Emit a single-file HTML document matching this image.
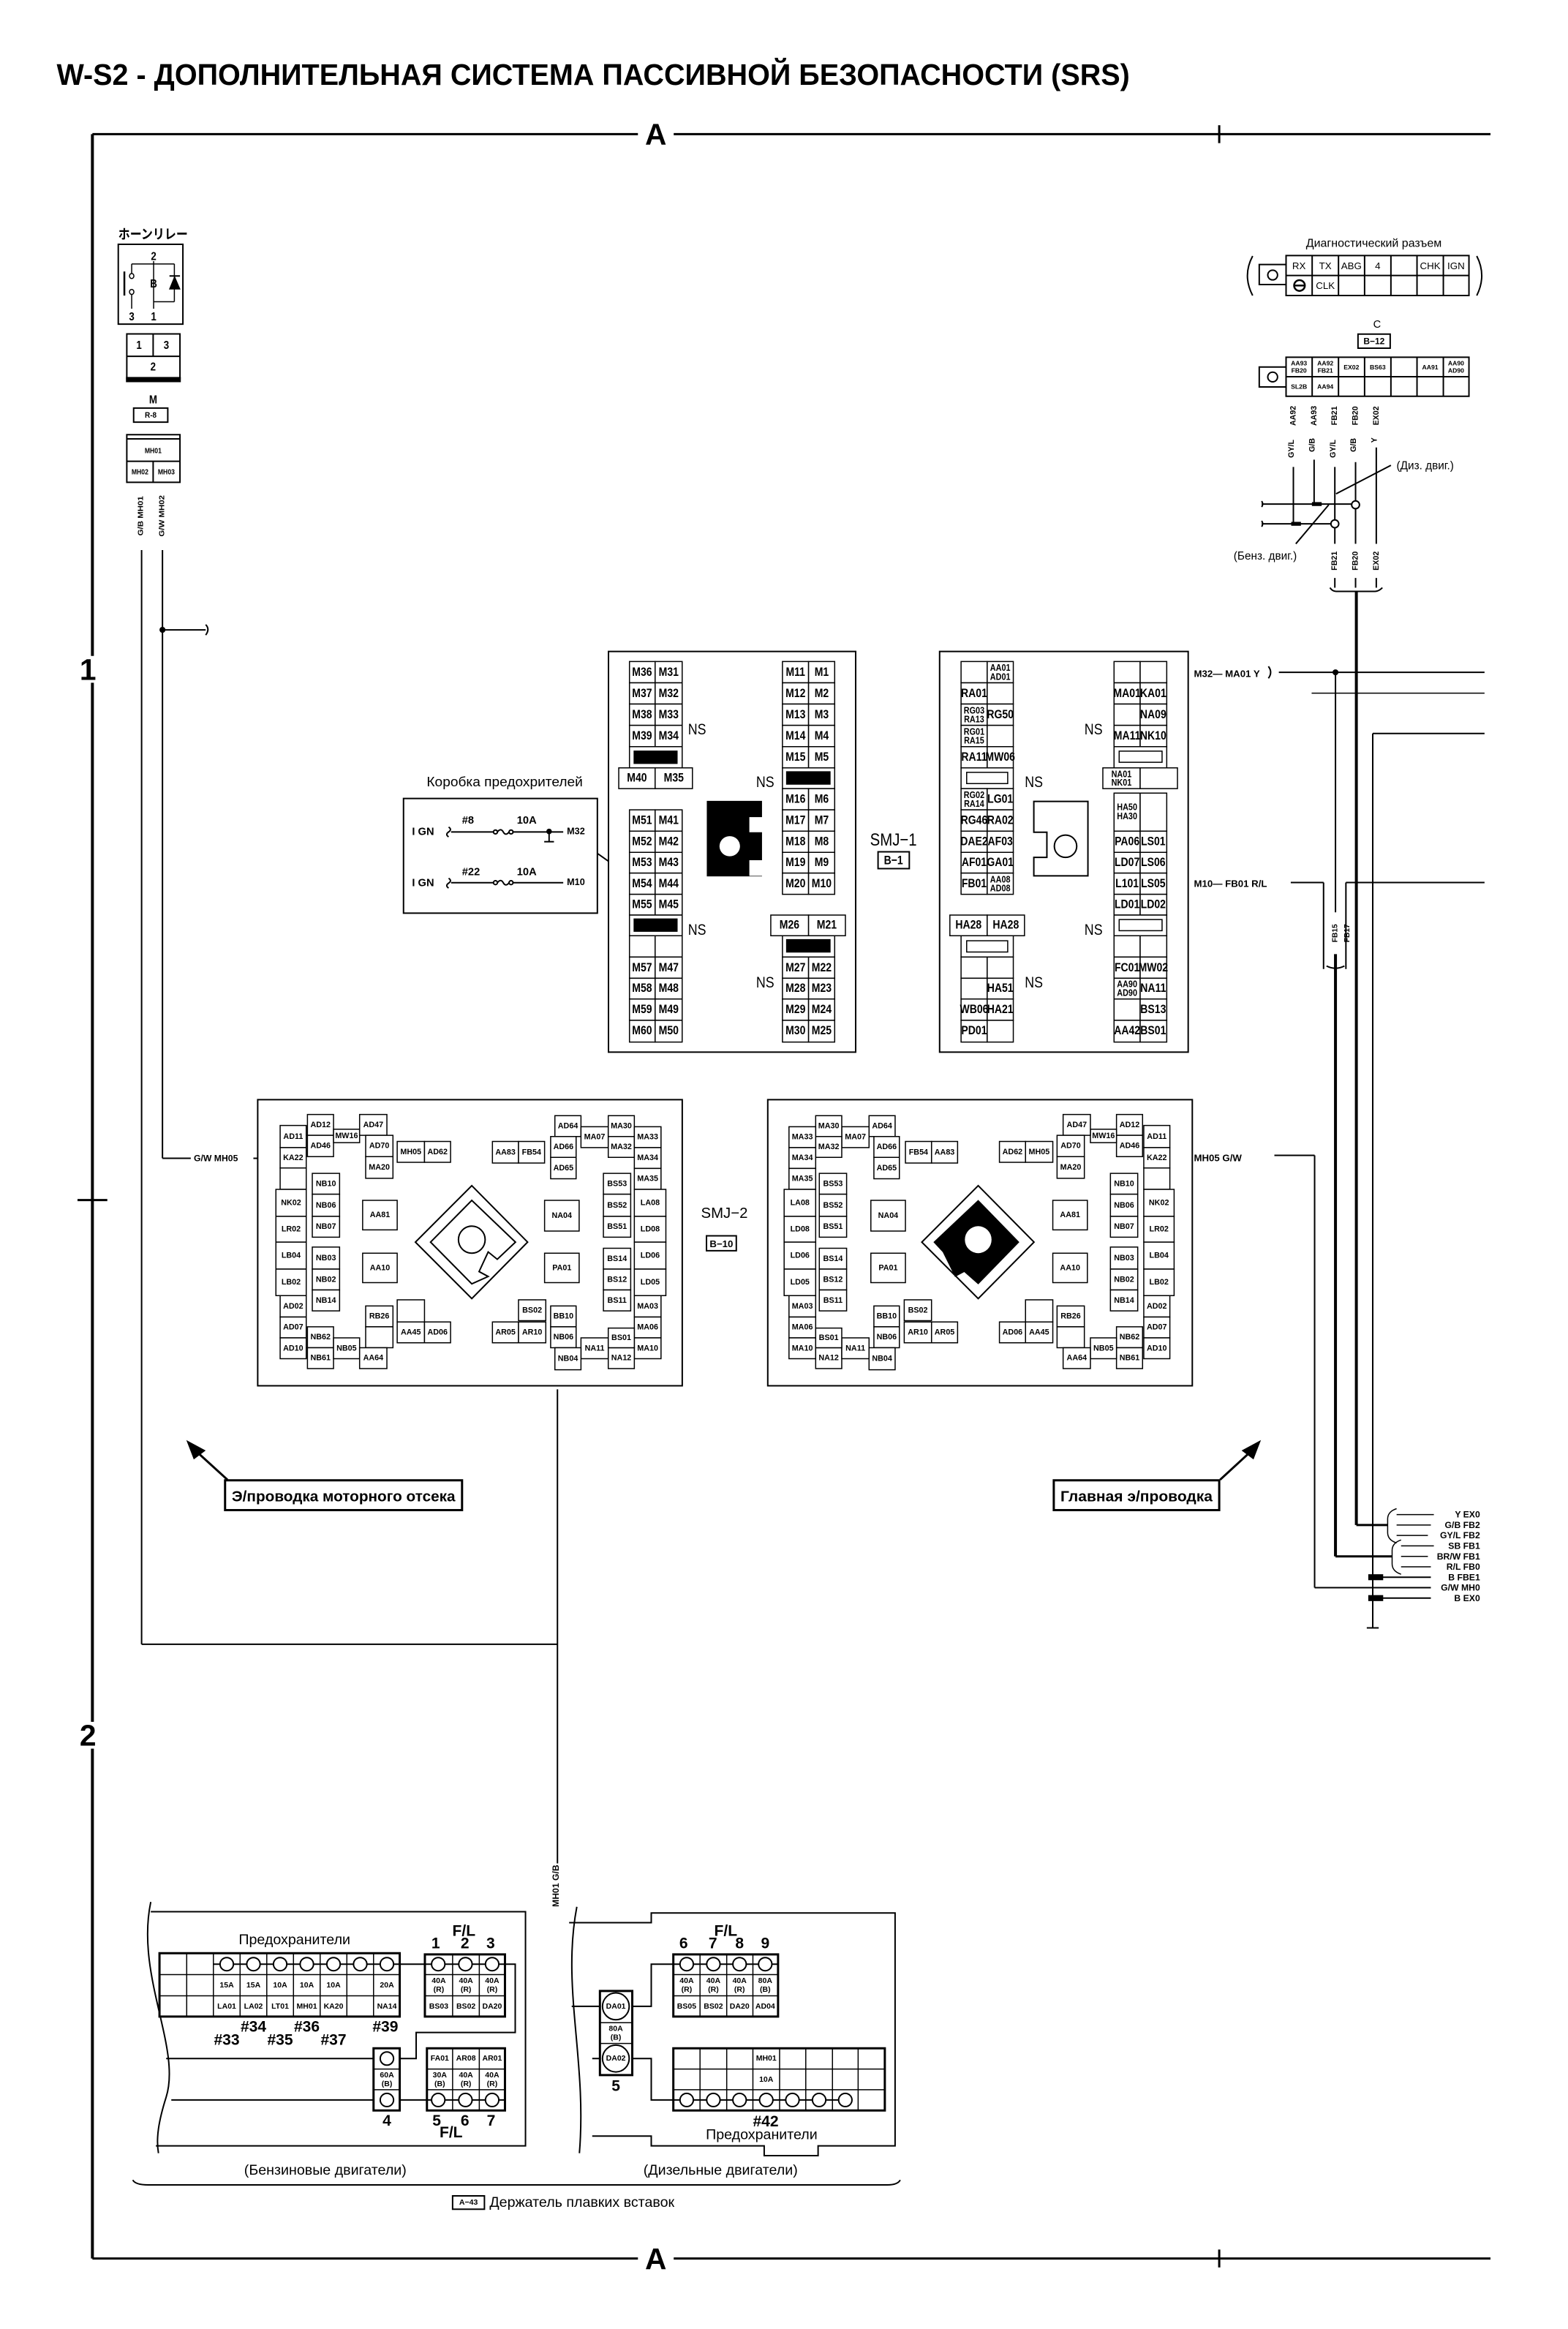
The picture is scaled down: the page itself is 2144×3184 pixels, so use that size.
<!DOCTYPE html>
<html><head><meta charset="utf-8">
<style>
html,body{margin:0;padding:0;background:#fff}
svg{display:block}
svg *{vector-effect:non-scaling-stroke}
text{font-family:"Liberation Sans","Noto Sans CJK JP",sans-serif;fill:#000;stroke:none}
.c{text-anchor:middle;dominant-baseline:central;font-weight:bold}
.n{text-anchor:middle;dominant-baseline:central}
.b{font-weight:bold}
</style></head><body>
<svg width="2144" height="3184" viewBox="0 0 1052 1562.3" xmlns="http://www.w3.org/2000/svg">
<rect x="0" y="0" width="1052" height="1563" fill="#fff"/>

<!-- Title -->
<text x="38" y="57" font-size="20" class="b" textLength="720" lengthAdjust="spacingAndGlyphs">W-S2 - ДОПОЛНИТЕЛЬНАЯ СИСТЕМА ПАССИВНОЙ БЕЗОПАСНОСТИ (SRS)</text>

<!-- Frame -->
<g stroke="#000" fill="none">
<line x1="62" y1="90" x2="428" y2="90" stroke-width="3"/>
<line x1="452" y1="90" x2="1000" y2="90" stroke-width="3"/>
<line x1="818" y1="84" x2="818" y2="96" stroke-width="3"/>
<line x1="62" y1="90" x2="62" y2="1515" stroke-width="4"/>
<line x1="62" y1="1515" x2="428" y2="1515" stroke-width="3"/>
<line x1="452" y1="1515" x2="1000" y2="1515" stroke-width="3"/>
<line x1="818" y1="1509" x2="818" y2="1521" stroke-width="3"/>
<line x1="52" y1="805" x2="72" y2="805" stroke-width="3"/>
</g>
<text x="440" y="97" font-size="20" class="b" text-anchor="middle">A</text>
<text x="440" y="1522" font-size="20" class="b" text-anchor="middle">A</text>
<rect x="52" y="440" width="14" height="18" fill="#fff"/>
<text x="59" y="456" font-size="20" class="b" text-anchor="middle">1</text>
<rect x="52" y="1155" width="14" height="18" fill="#fff"/>
<text x="59" y="1171" font-size="20" class="b" text-anchor="middle">2</text>

<!-- Horn relay (zoom5 coords) -->
<g transform="translate(58.9,142.3) scale(0.1636,0.1878)" stroke="#000" fill="none">
<text x="125" y="95" font-size="48" class="b">ホーンリレー</text>
<rect x="125" y="115" width="265" height="285" stroke-width="2"/>
<text x="270" y="160" font-size="40" class="c">2</text>
<text x="180" y="375" font-size="40" class="c">3</text>
<text x="270" y="375" font-size="40" class="c">1</text>
<line x1="150" y1="212" x2="150" y2="298" stroke-width="2.5"/>
<circle cx="180" cy="228" r="9" stroke-width="1.5"/>
<circle cx="180" cy="285" r="9" stroke-width="1.5"/>
<line x1="180" y1="294" x2="180" y2="345" stroke-width="1.5"/>
<line x1="180" y1="185" x2="180" y2="219" stroke-width="1.5"/>
<line x1="180" y1="185" x2="355" y2="185" stroke-width="1.5"/>
<line x1="270" y1="175" x2="270" y2="345" stroke-width="1.5"/>
<line x1="270" y1="320" x2="355" y2="320" stroke-width="1.5"/>
<line x1="355" y1="185" x2="355" y2="320" stroke-width="1.5"/>
<text x="270" y="258" font-size="40" class="c">B</text>
<polygon points="335,275 378,275 356,230" fill="#000"/>
<line x1="335" y1="228" x2="378" y2="228" stroke-width="2"/>
<rect x="160" y="435" width="218" height="160" fill="#fff" stroke-width="2"/>
<line x1="268" y1="435" x2="268" y2="515" stroke-width="2"/>
<line x1="160" y1="515" x2="378" y2="515" stroke-width="2"/>
<rect x="158" y="590" width="222" height="16" fill="#000"/>
<text x="210" y="478" font-size="40" class="c">1</text>
<text x="322" y="478" font-size="40" class="c">3</text>
<text x="268" y="555" font-size="40" class="c">2</text>
<text x="268" y="672" font-size="40" class="c">M</text>
<rect x="188" y="700" width="140" height="50" stroke-width="2"/>
<text x="258" y="726" font-size="30" class="c">R-8</text>
<rect x="160" y="795" width="218" height="170" fill="#fff" stroke-width="2"/>
<line x1="160" y1="810" x2="378" y2="810" stroke-width="2"/>
<line x1="160" y1="890" x2="378" y2="890" stroke-width="2"/>
<line x1="268" y1="890" x2="268" y2="965" stroke-width="2"/>
<text x="268" y="852" font-size="26" class="c">MH01</text>
<text x="214" y="928" font-size="26" class="c">MH02</text>
<text x="322" y="928" font-size="26" class="c">MH03</text>
<text transform="translate(218,1085) rotate(-90)" font-size="30" class="c">G/B MH01</text>
<text transform="translate(305,1085) rotate(-90)" font-size="30" class="c">G/W MH02</text>
</g>

<!-- Left wires -->
<g stroke="#000" fill="none" stroke-width="2">
<line x1="95" y1="369" x2="95" y2="1103"/>
<line x1="109" y1="369" x2="109" y2="777"/>
<line x1="109" y1="422.5" x2="138" y2="422.5"/>
<path d="M138,419 q3,3 0,7" />
<line x1="109" y1="777" x2="128" y2="777"/>
<line x1="170" y1="777" x2="174" y2="777"/>
<line x1="95" y1="1103" x2="374" y2="1103"/>
<line x1="374" y1="932" x2="374" y2="1250"/>
</g>
<circle cx="109" cy="422.5" r="2" fill="#000"/>
<text x="130" y="779" font-size="6" class="b">G/W MH05</text>

<!-- Fuse box (zoom7 coords) -->
<g transform="translate(265,510.3) scale(0.1636)" stroke="#000" fill="none">
<text x="450" y="105" font-size="56" text-anchor="middle" textLength="640" lengthAdjust="spacingAndGlyphs">Коробка предохрителей</text>
<rect x="35" y="155" width="795" height="470" stroke-width="2"/>
<text x="70" y="305" font-size="44" class="b">I GN</text>
<text x="70" y="515" font-size="44" class="b">I GN</text>
<path d="M220,272 q15,10 0,20 q-15,10 0,20" stroke-width="2"/>
<path d="M220,482 q15,10 0,20 q-15,10 0,20" stroke-width="2"/>
<line x1="230" y1="292" x2="405" y2="292" stroke-width="2"/>
<circle cx="412" cy="292" r="8" stroke-width="2"/>
<path d="M420,292 q14,-18 24,0 q10,18 24,0" stroke-width="2"/>
<circle cx="476" cy="292" r="8" stroke-width="2"/>
<line x1="484" y1="292" x2="690" y2="292" stroke-width="2"/>
<circle cx="632" cy="290" r="10" fill="#000"/>
<line x1="632" y1="290" x2="632" y2="330" stroke-width="2"/>
<line x1="612" y1="332" x2="652" y2="332" stroke-width="2"/>
<text x="705" y="302" font-size="38" class="b">M32</text>
<text x="275" y="258" font-size="44" class="b">#8</text>
<text x="500" y="258" font-size="44" class="b">10A</text>
<line x1="230" y1="500" x2="405" y2="500" stroke-width="2"/>
<circle cx="412" cy="500" r="8" stroke-width="2"/>
<path d="M420,500 q14,-18 24,0 q10,18 24,0" stroke-width="2"/>
<circle cx="476" cy="500" r="8" stroke-width="2"/>
<line x1="484" y1="500" x2="690" y2="500" stroke-width="2"/>
<text x="705" y="510" font-size="38" class="b">M10</text>
<text x="275" y="470" font-size="44" class="b">#22</text>
<text x="500" y="470" font-size="44" class="b">10A</text>
<line x1="830" y1="380" x2="875" y2="412" stroke-width="2"/>
</g>

<!-- SMJ-1 (zoom1 coords) -->
<g transform="translate(392.6,147.2) scale(0.3129,0.3754)" stroke="#000" stroke-width="1.5">
<rect x="50" y="772" width="530" height="716" fill="#fff" stroke-width="2"/>
<rect x="760" y="772" width="533" height="716" fill="#fff" stroke-width="2"/>
<g fill="#fff">
<rect x="95" y="790" width="55" height="38"/><rect x="150" y="790" width="58" height="38"/>
<rect x="95" y="828" width="55" height="38"/><rect x="150" y="828" width="58" height="38"/>
<rect x="95" y="866" width="55" height="38"/><rect x="150" y="866" width="58" height="38"/>
<rect x="95" y="904" width="55" height="38"/><rect x="150" y="904" width="58" height="38"/>
<rect x="95" y="942" width="113" height="38"/>
<rect x="72" y="980" width="78" height="37"/><rect x="150" y="980" width="80" height="37"/>
<rect x="95" y="1055" width="55" height="38"/><rect x="150" y="1055" width="58" height="38"/>
<rect x="95" y="1093" width="55" height="38"/><rect x="150" y="1093" width="58" height="38"/>
<rect x="95" y="1131" width="55" height="37"/><rect x="150" y="1131" width="58" height="37"/>
<rect x="95" y="1168" width="55" height="38"/><rect x="150" y="1168" width="58" height="38"/>
<rect x="95" y="1206" width="55" height="37"/><rect x="150" y="1206" width="58" height="37"/>
<rect x="95" y="1243" width="113" height="37"/>
<rect x="95" y="1280" width="55" height="38"/><rect x="150" y="1280" width="58" height="38"/>
<rect x="95" y="1318" width="55" height="38"/><rect x="150" y="1318" width="58" height="38"/>
<rect x="95" y="1356" width="55" height="37"/><rect x="150" y="1356" width="58" height="37"/>
<rect x="95" y="1393" width="55" height="38"/><rect x="150" y="1393" width="58" height="38"/>
<rect x="95" y="1431" width="55" height="39"/><rect x="150" y="1431" width="58" height="39"/>
<rect x="423" y="790" width="56" height="38"/><rect x="479" y="790" width="56" height="38"/>
<rect x="423" y="828" width="56" height="38"/><rect x="479" y="828" width="56" height="38"/>
<rect x="423" y="866" width="56" height="38"/><rect x="479" y="866" width="56" height="38"/>
<rect x="423" y="904" width="56" height="38"/><rect x="479" y="904" width="56" height="38"/>
<rect x="423" y="942" width="56" height="38"/><rect x="479" y="942" width="56" height="38"/>
<rect x="423" y="980" width="112" height="37"/>
<rect x="423" y="1017" width="56" height="38"/><rect x="479" y="1017" width="56" height="38"/>
<rect x="423" y="1055" width="56" height="38"/><rect x="479" y="1055" width="56" height="38"/>
<rect x="423" y="1093" width="56" height="38"/><rect x="479" y="1093" width="56" height="38"/>
<rect x="423" y="1131" width="56" height="37"/><rect x="479" y="1131" width="56" height="37"/>
<rect x="423" y="1168" width="56" height="38"/><rect x="479" y="1168" width="56" height="38"/>
<rect x="398" y="1243" width="81" height="37"/><rect x="479" y="1243" width="79" height="37"/>
<rect x="423" y="1280" width="112" height="38"/>
<rect x="423" y="1318" width="56" height="38"/><rect x="479" y="1318" width="56" height="38"/>
<rect x="423" y="1356" width="56" height="37"/><rect x="479" y="1356" width="56" height="37"/>
<rect x="423" y="1393" width="56" height="38"/><rect x="479" y="1393" width="56" height="38"/>
<rect x="423" y="1431" width="56" height="39"/><rect x="479" y="1431" width="56" height="39"/>
</g>
<rect x="105" y="950" width="92" height="22" fill="#000"/>
<rect x="105" y="1250" width="92" height="22" fill="#000"/>
<rect x="432" y="987" width="93" height="22" fill="#000"/>
<rect x="432" y="1287" width="93" height="22" fill="#000"/>
<rect x="262" y="1040" width="116" height="133" fill="#000"/>
<rect x="352" y="1068" width="28" height="27" fill="#fff" stroke="none"/>
<rect x="352" y="1145" width="28" height="28" fill="#fff" stroke="none"/>
<ellipse cx="310" cy="1120" rx="22" ry="18" fill="#fff" stroke="none"/>
<g fill="#fff">
<rect x="806" y="790" width="56" height="38"/><rect x="862" y="790" width="56" height="38"/>
<rect x="806" y="828" width="56" height="38"/><rect x="862" y="828" width="56" height="38"/>
<rect x="806" y="866" width="56" height="38"/><rect x="862" y="866" width="56" height="38"/>
<rect x="806" y="904" width="56" height="38"/><rect x="862" y="904" width="56" height="38"/>
<rect x="806" y="942" width="56" height="38"/><rect x="862" y="942" width="56" height="38"/>
<rect x="806" y="980" width="112" height="37"/>
<rect x="806" y="1017" width="56" height="38"/><rect x="862" y="1017" width="56" height="38"/>
<rect x="806" y="1055" width="56" height="38"/><rect x="862" y="1055" width="56" height="38"/>
<rect x="806" y="1093" width="56" height="38"/><rect x="862" y="1093" width="56" height="38"/>
<rect x="806" y="1131" width="56" height="37"/><rect x="862" y="1131" width="56" height="37"/>
<rect x="806" y="1168" width="56" height="38"/><rect x="862" y="1168" width="56" height="38"/>
<rect x="782" y="1243" width="80" height="37"/><rect x="862" y="1243" width="80" height="37"/>
<rect x="806" y="1280" width="112" height="38"/>
<rect x="806" y="1318" width="56" height="38"/><rect x="862" y="1318" width="56" height="38"/>
<rect x="806" y="1356" width="56" height="37"/><rect x="862" y="1356" width="56" height="37"/>
<rect x="806" y="1393" width="56" height="38"/><rect x="862" y="1393" width="56" height="38"/>
<rect x="806" y="1431" width="56" height="39"/><rect x="862" y="1431" width="56" height="39"/>
<rect x="1134" y="790" width="56" height="38"/><rect x="1190" y="790" width="57" height="38"/>
<rect x="1134" y="828" width="56" height="38"/><rect x="1190" y="828" width="57" height="38"/>
<rect x="1134" y="866" width="56" height="38"/><rect x="1190" y="866" width="57" height="38"/>
<rect x="1134" y="904" width="56" height="38"/><rect x="1190" y="904" width="57" height="38"/>
<rect x="1134" y="942" width="113" height="38"/>
<rect x="1110" y="980" width="80" height="37"/><rect x="1190" y="980" width="80" height="37"/>
<rect x="1134" y="1025" width="56" height="68"/><rect x="1190" y="1025" width="57" height="68"/>
<rect x="1134" y="1093" width="56" height="38"/><rect x="1190" y="1093" width="57" height="38"/>
<rect x="1134" y="1131" width="56" height="37"/><rect x="1190" y="1131" width="57" height="37"/>
<rect x="1134" y="1168" width="56" height="38"/><rect x="1190" y="1168" width="57" height="38"/>
<rect x="1134" y="1206" width="56" height="37"/><rect x="1190" y="1206" width="57" height="37"/>
<rect x="1134" y="1243" width="113" height="37"/>
<rect x="1134" y="1280" width="56" height="38"/><rect x="1190" y="1280" width="57" height="38"/>
<rect x="1134" y="1318" width="56" height="38"/><rect x="1190" y="1318" width="57" height="38"/>
<rect x="1134" y="1356" width="56" height="37"/><rect x="1190" y="1356" width="57" height="37"/>
<rect x="1134" y="1393" width="56" height="38"/><rect x="1190" y="1393" width="57" height="38"/>
<rect x="1134" y="1431" width="56" height="39"/><rect x="1190" y="1431" width="57" height="39"/>
<rect x="818" y="988" width="88" height="20"/>
<rect x="818" y="1289" width="88" height="20"/>
<rect x="1145" y="950" width="92" height="20"/>
<rect x="1145" y="1251" width="92" height="20"/>
<path d="M962,1040 L1078,1040 L1078,1173 L962,1173 L962,1140 L990,1140 L990,1095 L962,1095 Z" stroke-width="2"/>
<ellipse cx="1030" cy="1120" rx="24" ry="20" stroke-width="2"/>
<rect x="628" y="1130" width="67" height="30" stroke-width="2"/>
</g>
<g font-size="22" class="c" stroke="none">
<text x="122" y="809" class="c">M36</text><text x="179" y="809" class="c">M31</text>
<text x="122" y="847" class="c">M37</text><text x="179" y="847" class="c">M32</text>
<text x="122" y="885" class="c">M38</text><text x="179" y="885" class="c">M33</text>
<text x="122" y="923" class="c">M39</text><text x="179" y="923" class="c">M34</text>
<text x="111" y="998" class="c">M40</text><text x="190" y="998" class="c">M35</text>
<text x="122" y="1074" class="c">M51</text><text x="179" y="1074" class="c">M41</text>
<text x="122" y="1112" class="c">M52</text><text x="179" y="1112" class="c">M42</text>
<text x="122" y="1149" class="c">M53</text><text x="179" y="1149" class="c">M43</text>
<text x="122" y="1187" class="c">M54</text><text x="179" y="1187" class="c">M44</text>
<text x="122" y="1224" class="c">M55</text><text x="179" y="1224" class="c">M45</text>
<text x="122" y="1337" class="c">M57</text><text x="179" y="1337" class="c">M47</text>
<text x="122" y="1374" class="c">M58</text><text x="179" y="1374" class="c">M48</text>
<text x="122" y="1412" class="c">M59</text><text x="179" y="1412" class="c">M49</text>
<text x="122" y="1450" class="c">M60</text><text x="179" y="1450" class="c">M50</text>
<text x="451" y="809" class="c">M11</text><text x="507" y="809" class="c">M1</text>
<text x="451" y="847" class="c">M12</text><text x="507" y="847" class="c">M2</text>
<text x="451" y="885" class="c">M13</text><text x="507" y="885" class="c">M3</text>
<text x="451" y="923" class="c">M14</text><text x="507" y="923" class="c">M4</text>
<text x="451" y="961" class="c">M15</text><text x="507" y="961" class="c">M5</text>
<text x="451" y="1036" class="c">M16</text><text x="507" y="1036" class="c">M6</text>
<text x="451" y="1074" class="c">M17</text><text x="507" y="1074" class="c">M7</text>
<text x="451" y="1112" class="c">M18</text><text x="507" y="1112" class="c">M8</text>
<text x="451" y="1149" class="c">M19</text><text x="507" y="1149" class="c">M9</text>
<text x="451" y="1187" class="c">M20</text><text x="507" y="1187" class="c">M10</text>
<text x="438" y="1261" class="c">M26</text><text x="518" y="1261" class="c">M21</text>
<text x="451" y="1337" class="c">M27</text><text x="507" y="1337" class="c">M22</text>
<text x="451" y="1374" class="c">M28</text><text x="507" y="1374" class="c">M23</text>
<text x="451" y="1412" class="c">M29</text><text x="507" y="1412" class="c">M24</text>
<text x="451" y="1450" class="c">M30</text><text x="507" y="1450" class="c">M25</text>
<text x="834" y="847" class="c">RA01</text>
<text x="834" y="961" class="c">RA11</text><text x="890" y="961" class="c">MW06</text>
<text x="890" y="885" class="c">RG50</text>
<text x="890" y="1036" class="c">LG01</text>
<text x="834" y="1074" class="c">RG46</text><text x="890" y="1074" class="c">RA02</text>
<text x="834" y="1112" class="c">DAE2</text><text x="890" y="1112" class="c">AF03</text>
<text x="834" y="1149" class="c">AF01</text><text x="890" y="1149" class="c">GA01</text>
<text x="834" y="1187" class="c">FB01</text>
<text x="822" y="1261" class="c">HA28</text><text x="902" y="1261" class="c">HA28</text>
<text x="890" y="1374" class="c">HA51</text>
<text x="834" y="1412" class="c">WB06</text><text x="890" y="1412" class="c">HA21</text>
<text x="834" y="1450" class="c">PD01</text>
<text x="1162" y="847" class="c">MA01</text><text x="1218" y="847" class="c">KA01</text>
<text x="1218" y="885" class="c">NA09</text>
<text x="1162" y="923" class="c">MA11</text><text x="1218" y="923" class="c">NK10</text>
<text x="1162" y="1112" class="c">PA06</text><text x="1218" y="1112" class="c">LS01</text>
<text x="1162" y="1149" class="c">LD07</text><text x="1218" y="1149" class="c">LS06</text>
<text x="1162" y="1187" class="c">L101</text><text x="1218" y="1187" class="c">LS05</text>
<text x="1162" y="1224" class="c">LD01</text><text x="1218" y="1224" class="c">LD02</text>
<text x="1162" y="1337" class="c">FC01</text><text x="1218" y="1337" class="c">MW02</text>
<text x="1218" y="1374" class="c">NA11</text>
<text x="1218" y="1412" class="c">BS13</text>
<text x="1162" y="1450" class="c">AA42</text><text x="1218" y="1450" class="c">BS01</text>
</g>
<g font-size="17" stroke="none">
<text x="890" y="801" class="c">AA01</text><text x="890" y="817" class="c">AD01</text>
<text x="834" y="877" class="c">RG03</text><text x="834" y="893" class="c">RA13</text>
<text x="834" y="915" class="c">RG01</text><text x="834" y="931" class="c">RA15</text>
<text x="834" y="1028" class="c">RG02</text><text x="834" y="1044" class="c">RA14</text>
<text x="890" y="1179" class="c">AA08</text><text x="890" y="1195" class="c">AD08</text>
<text x="1150" y="991" class="c">NA01</text><text x="1150" y="1006" class="c">NK01</text>
<text x="1162" y="1050" class="c">HA50</text><text x="1162" y="1066" class="c">HA30</text>
<text x="1162" y="1366" class="c">AA90</text><text x="1162" y="1382" class="c">AD90</text>
</g>
<g font-size="28" stroke="none">
<text x="240" y="912" class="n">NS</text><text x="386" y="1006" class="n">NS</text>
<text x="240" y="1270" class="n">NS</text><text x="386" y="1364" class="n">NS</text>
<text x="962" y="1006" class="n">NS</text><text x="962" y="1364" class="n">NS</text>
<text x="1090" y="912" class="n">NS</text><text x="1090" y="1270" class="n">NS</text>
<text x="661" y="1108" class="n" font-size="32">SMJ−1</text>
<text x="661" y="1146" class="c" font-size="22">B−1</text>
</g>
</g>

<!-- Diagnostic connector area (zoom4 coords) -->
<g transform="translate(824.4,147.2) scale(0.1636)" stroke="#000" fill="none">
<text x="595" y="112" font-size="48" text-anchor="middle">Диагностический разъем</text>
<path d="M98,150 Q55,230 98,312" stroke-width="2"/>
<path d="M1017,150 Q1058,230 1017,312" stroke-width="2"/>
<rect x="125" y="185" width="110" height="82" stroke-width="2"/>
<circle cx="180" cy="228" r="20" stroke-width="2"/>
<rect x="235" y="148" width="750" height="164" stroke-width="2"/>
<line x1="235" y1="230" x2="985" y2="230" stroke-width="2"/>
<line x1="342" y1="148" x2="342" y2="312" stroke-width="2"/>
<line x1="450" y1="148" x2="450" y2="312" stroke-width="2"/>
<line x1="557" y1="148" x2="557" y2="312" stroke-width="2"/>
<line x1="665" y1="148" x2="665" y2="312" stroke-width="2"/>
<line x1="772" y1="148" x2="772" y2="312" stroke-width="2"/>
<line x1="880" y1="148" x2="880" y2="312" stroke-width="2"/>
<circle cx="290" cy="271" r="22" stroke-width="2.5"/>
<line x1="268" y1="271" x2="312" y2="271" stroke-width="2.5"/>
<g font-size="40" stroke="none">
<text x="288" y="190" class="n">RX</text><text x="396" y="190" class="n">TX</text>
<text x="503" y="190" class="n">ABG</text><text x="611" y="190" class="n">4</text>
<text x="826" y="190" class="n">CHK</text><text x="932" y="190" class="n">IGN</text>
<text x="396" y="271" class="n">CLK</text>
<text x="608" y="432" class="n" font-size="44">C</text>
</g>
<rect x="530" y="470" width="132" height="58" stroke-width="2"/>
<text x="596" y="499" font-size="36" class="c">B−12</text>
<rect x="125" y="605" width="110" height="82" stroke-width="2"/>
<circle cx="180" cy="646" r="20" stroke-width="2"/>
<rect x="235" y="565" width="750" height="160" stroke-width="2"/>
<line x1="235" y1="645" x2="985" y2="645" stroke-width="2"/>
<line x1="342" y1="565" x2="342" y2="725" stroke-width="2"/>
<line x1="450" y1="565" x2="450" y2="725" stroke-width="2"/>
<line x1="557" y1="565" x2="557" y2="725" stroke-width="2"/>
<line x1="665" y1="565" x2="665" y2="725" stroke-width="2"/>
<line x1="772" y1="565" x2="772" y2="725" stroke-width="2"/>
<line x1="880" y1="565" x2="880" y2="725" stroke-width="2"/>
<g font-size="26" stroke="none">
<text x="288" y="590" class="c">AA93</text><text x="288" y="620" class="c">FB20</text>
<text x="396" y="590" class="c">AA92</text><text x="396" y="620" class="c">FB21</text>
<text x="503" y="606" class="c">EX02</text><text x="611" y="606" class="c">BS63</text>
<text x="826" y="606" class="c">AA91</text>
<text x="932" y="590" class="c">AA90</text><text x="932" y="620" class="c">AD90</text>
<text x="288" y="686" class="c">SL2B</text><text x="396" y="686" class="c">AA94</text>
</g>
<g font-size="32" stroke="none">
<text transform="translate(265,805) rotate(-90)" class="c">AA92</text>
<text transform="translate(350,805) rotate(-90)" class="c">AA93</text>
<text transform="translate(435,805) rotate(-90)" class="c">FB21</text>
<text transform="translate(520,805) rotate(-90)" class="c">FB20</text>
<text transform="translate(605,805) rotate(-90)" class="c">EX02</text>
<text transform="translate(258,940) rotate(-90)" class="c">GY/L</text>
<text transform="translate(343,925) rotate(-90)" class="c">G/B</text>
<text transform="translate(428,940) rotate(-90)" class="c">GY/L</text>
<text transform="translate(513,925) rotate(-90)" class="c">G/B</text>
<text transform="translate(598,905) rotate(-90)" class="c">Y</text>
<text transform="translate(435,1400) rotate(-90)" class="c">FB21</text>
<text transform="translate(520,1400) rotate(-90)" class="c">FB20</text>
<text transform="translate(605,1400) rotate(-90)" class="c">EX02</text>
</g>
<g stroke-width="2">
<line x1="265" y1="1015" x2="265" y2="1250"/>
<line x1="350" y1="985" x2="350" y2="1167"/>
<line x1="435" y1="1015" x2="435" y2="1232"/>
<line x1="435" y1="1264" x2="435" y2="1330"/>
<line x1="520" y1="995" x2="520" y2="1154"/>
<line x1="520" y1="1186" x2="520" y2="1330"/>
<line x1="605" y1="935" x2="605" y2="1330"/>
<line x1="135" y1="1167" x2="504" y2="1167"/>
<line x1="135" y1="1248" x2="419" y2="1248"/>
<circle cx="520" cy="1170" r="16"/>
<circle cx="435" cy="1248" r="16"/>
<line x1="665" y1="1008" x2="440" y2="1125"/>
<line x1="275" y1="1330" x2="410" y2="1170"/>
<line x1="435" y1="1470" x2="435" y2="1510"/>
<line x1="520" y1="1470" x2="520" y2="1510"/>
<line x1="605" y1="1470" x2="605" y2="1510"/>
<path d="M415,1510 Q425,1525 440,1525 L600,1525 Q615,1525 630,1510"/>
</g>
<rect x="256" y="1240" width="40" height="16" fill="#000" stroke="none"/>
<rect x="341" y="1159" width="40" height="16" fill="#000" stroke="none"/>
<path d="M135,1155 q8,12 0,24" stroke-width="2"/>
<path d="M135,1236 q8,12 0,24" stroke-width="2"/>
<text x="688" y="1025" font-size="46">(Диз. двиг.)</text>
<text x="20" y="1395" font-size="46">(Бенз. двиг.)</text>
</g>

<!-- Right wires -->
<g stroke="#000" fill="none" stroke-width="2">
<line x1="910" y1="397" x2="910" y2="1023" stroke-width="4"/>
<line x1="910" y1="1023" x2="931" y2="1023" stroke-width="3"/>
<line x1="896" y1="451" x2="896" y2="612"/>
<line x1="896" y1="640" x2="896" y2="1044" stroke-width="4"/>
<line x1="896" y1="1044" x2="934" y2="1044" stroke-width="3"/>
<line x1="921" y1="492" x2="921" y2="1092"/>
<line x1="917" y1="1092" x2="925" y2="1092"/>
<line x1="921" y1="492" x2="996" y2="492"/>
<line x1="858" y1="451" x2="996" y2="451"/>
<line x1="880" y1="465" x2="996" y2="465" stroke-width="1.5"/>
<path d="M851,447 q3,4 0,8"/>
<line x1="866" y1="592" x2="888" y2="592"/>
<line x1="888" y1="592" x2="888" y2="650"/>
<line x1="903" y1="592" x2="996" y2="592"/>
<line x1="903" y1="592" x2="903" y2="650"/>
<path d="M890,648 q6,3 12,0"/>
<line x1="855" y1="775" x2="882" y2="775"/>
<line x1="882" y1="775" x2="882" y2="1065"/>
<line x1="882" y1="1065" x2="960" y2="1065"/>
<line x1="921" y1="1058" x2="960" y2="1058"/>
<line x1="921" y1="1072" x2="960" y2="1072"/>
<path d="M937,1012 Q931,1014 931,1019 L931,1028 Q931,1033 937,1035" stroke-width="1.5"/>
<path d="M940,1033 Q934,1035 934,1040 L934,1049 Q934,1054 940,1056" stroke-width="1.5"/>
<line x1="937" y1="1016" x2="962" y2="1016" stroke-width="1.5"/>
<line x1="937" y1="1023" x2="960" y2="1023" stroke-width="1.5"/>
<line x1="937" y1="1030" x2="958" y2="1030" stroke-width="1.5"/>
<line x1="940" y1="1037" x2="962" y2="1037" stroke-width="1.5"/>
<line x1="940" y1="1044" x2="958" y2="1044" stroke-width="1.5"/>
<line x1="940" y1="1051" x2="960" y2="1051" stroke-width="1.5"/>
</g>
<circle cx="896" cy="451" r="2" fill="#000"/>
<rect x="918" y="1056" width="10" height="4" fill="#000"/>
<rect x="918" y="1070" width="10" height="4" fill="#000"/>
<g font-size="6" class="b" text-anchor="end">
<text x="993" y="1018">Y   EX0</text>
<text x="993" y="1025">G/B  FB2</text>
<text x="993" y="1032">GY/L  FB2</text>
<text x="993" y="1039">SB  FB1</text>
<text x="993" y="1046">BR/W  FB1</text>
<text x="993" y="1053">R/L  FB0</text>
<text x="993" y="1060">B  FBE1</text>
<text x="993" y="1067">G/W  MH0</text>
<text x="993" y="1074">B  EX0</text>
</g>
<g font-size="6.5" class="b">
<text x="801" y="454">M32— MA01  Y</text>
<text x="801" y="595">M10— FB01  R/L</text>
<text x="801" y="779">MH05  G/W</text>
</g>
<text transform="translate(896,626) rotate(-90)" font-size="5" class="c">FB15</text>
<text transform="translate(904,626) rotate(-90)" font-size="5" class="c">FB17</text>

<!-- SMJ-2 (zoom3 coords) -->
<g transform="translate(166.8,731.1) scale(0.4069,0.1647)" stroke="#000">
<rect x="15" y="40" width="700" height="1165" fill="#fff" stroke-width="2"/>
<rect x="856" y="40" width="700" height="1165" fill="#fff" stroke-width="2"/>
<g id="s2cells" fill="#fff" stroke-width="1.5">
<rect x="52" y="145" width="43" height="90"/><rect x="52" y="235" width="43" height="83"/>
<rect x="52" y="318" width="43" height="87"/><rect x="45" y="405" width="50" height="110"/>
<rect x="45" y="515" width="50" height="105"/><rect x="45" y="620" width="50" height="110"/>
<rect x="45" y="730" width="50" height="108"/><rect x="52" y="838" width="43" height="87"/>
<rect x="52" y="925" width="43" height="85"/><rect x="52" y="1010" width="43" height="85"/>
<rect x="97" y="100" width="43" height="85"/><rect x="97" y="185" width="43" height="87"/>
<rect x="140" y="160" width="43" height="55"/><rect x="183" y="100" width="45" height="85"/>
<rect x="193" y="185" width="45" height="87"/><rect x="193" y="272" width="45" height="88"/>
<rect x="245" y="210" width="45" height="85"/><rect x="290" y="210" width="43" height="85"/>
<rect x="105" y="340" width="45" height="85"/><rect x="105" y="425" width="45" height="90"/>
<rect x="105" y="515" width="45" height="85"/><rect x="105" y="640" width="45" height="90"/>
<rect x="105" y="730" width="45" height="85"/><rect x="105" y="815" width="45" height="85"/>
<rect x="188" y="450" width="57" height="120"/><rect x="188" y="665" width="57" height="120"/>
<rect x="193" y="880" width="45" height="85"/><rect x="193" y="965" width="45" height="85"/>
<rect x="245" y="855" width="45" height="90"/><rect x="245" y="945" width="45" height="85"/>
<rect x="290" y="945" width="43" height="85"/><rect x="97" y="965" width="43" height="85"/>
<rect x="97" y="1050" width="43" height="85"/><rect x="140" y="1010" width="43" height="85"/>
<rect x="183" y="1050" width="45" height="85"/>
<rect x="402" y="210" width="43" height="88"/><rect x="445" y="210" width="43" height="88"/>
<rect x="505" y="105" width="43" height="85"/><rect x="498" y="190" width="42" height="85"/>
<rect x="498" y="275" width="42" height="87"/><rect x="548" y="150" width="45" height="85"/>
<rect x="593" y="105" width="43" height="85"/><rect x="593" y="190" width="43" height="85"/>
<rect x="636" y="150" width="44" height="85"/><rect x="636" y="235" width="44" height="85"/>
<rect x="636" y="320" width="44" height="85"/><rect x="636" y="405" width="52" height="110"/>
<rect x="636" y="515" width="52" height="105"/><rect x="636" y="620" width="52" height="110"/>
<rect x="636" y="730" width="52" height="108"/><rect x="636" y="838" width="44" height="87"/>
<rect x="636" y="925" width="44" height="85"/><rect x="636" y="1010" width="44" height="85"/>
<rect x="593" y="1050" width="43" height="85"/><rect x="548" y="1010" width="45" height="85"/>
<rect x="593" y="970" width="43" height="80"/>
<rect x="585" y="340" width="45" height="85"/><rect x="585" y="425" width="45" height="90"/>
<rect x="585" y="515" width="45" height="85"/><rect x="585" y="645" width="45" height="85"/>
<rect x="585" y="730" width="45" height="85"/><rect x="585" y="815" width="45" height="85"/>
<rect x="488" y="450" width="57" height="125"/><rect x="488" y="665" width="57" height="120"/>
<rect x="445" y="855" width="45" height="85"/><rect x="402" y="945" width="43" height="85"/>
<rect x="445" y="945" width="45" height="85"/><rect x="498" y="880" width="42" height="85"/>
<rect x="498" y="965" width="42" height="85"/><rect x="505" y="1050" width="43" height="90"/>
</g>
<use href="#s2cells" transform="translate(1571,0) scale(-1,1)"/>
<polygon points="368,390 460,620 368,850 275,620" fill="none" stroke-width="2"/>
<path d="M368,450 L440,620 L410,690 L395,660 L380,740 L395,760 L368,790 L300,620 Z" fill="none" stroke-width="2"/>
<ellipse cx="368" cy="610" rx="22" ry="55" fill="none" stroke-width="2"/>
<polygon points="1203,390 1295,620 1203,850 1110,620" fill="none" stroke-width="2"/>
<path d="M1203,450 L1270,620 L1203,790 L1180,740 L1165,760 L1145,660 L1130,620 Z" fill="#000"/>
<ellipse cx="1203" cy="610" rx="22" ry="55" fill="#fff" stroke="none"/>
</g>
<g transform="translate(166.8,731.1) scale(0.4069,0.1647)">
<g font-size="13">
<text class="c" transform="translate(73.5,190) scale(1,2.47)">AD11</text>
<text class="c" transform="translate(73.5,276.5) scale(1,2.47)">KA22</text>
<text class="c" transform="translate(70,460) scale(1,2.47)">NK02</text>
<text class="c" transform="translate(70,567.5) scale(1,2.47)">LR02</text>
<text class="c" transform="translate(70,675) scale(1,2.47)">LB04</text>
<text class="c" transform="translate(70,784) scale(1,2.47)">LB02</text>
<text class="c" transform="translate(73.5,881.5) scale(1,2.47)">AD02</text>
<text class="c" transform="translate(73.5,967.5) scale(1,2.47)">AD07</text>
<text class="c" transform="translate(73.5,1052.5) scale(1,2.47)">AD10</text>
<text class="c" transform="translate(118.5,142.5) scale(1,2.47)">AD12</text>
<text class="c" transform="translate(118.5,228.5) scale(1,2.47)">AD46</text>
<text class="c" transform="translate(161.5,187.5) scale(1,2.47)">MW16</text>
<text class="c" transform="translate(205.5,142.5) scale(1,2.47)">AD47</text>
<text class="c" transform="translate(215.5,228.5) scale(1,2.47)">AD70</text>
<text class="c" transform="translate(215.5,316) scale(1,2.47)">MA20</text>
<text class="c" transform="translate(267.5,252.5) scale(1,2.47)">MH05</text>
<text class="c" transform="translate(311.5,252.5) scale(1,2.47)">AD62</text>
<text class="c" transform="translate(127.5,382.5) scale(1,2.47)">NB10</text>
<text class="c" transform="translate(127.5,470) scale(1,2.47)">NB06</text>
<text class="c" transform="translate(127.5,557.5) scale(1,2.47)">NB07</text>
<text class="c" transform="translate(127.5,685) scale(1,2.47)">NB03</text>
<text class="c" transform="translate(127.5,772.5) scale(1,2.47)">NB02</text>
<text class="c" transform="translate(127.5,857.5) scale(1,2.47)">NB14</text>
<text class="c" transform="translate(216.5,510) scale(1,2.47)">AA81</text>
<text class="c" transform="translate(216.5,725) scale(1,2.47)">AA10</text>
<text class="c" transform="translate(215.5,922.5) scale(1,2.47)">RB26</text>
<text class="c" transform="translate(267.5,987.5) scale(1,2.47)">AA45</text>
<text class="c" transform="translate(311.5,987.5) scale(1,2.47)">AD06</text>
<text class="c" transform="translate(118.5,1007.5) scale(1,2.47)">NB62</text>
<text class="c" transform="translate(118.5,1092.5) scale(1,2.47)">NB61</text>
<text class="c" transform="translate(161.5,1052.5) scale(1,2.47)">NB05</text>
<text class="c" transform="translate(205.5,1092.5) scale(1,2.47)">AA64</text>
<text class="c" transform="translate(423.5,254) scale(1,2.47)">AA83</text>
<text class="c" transform="translate(466.5,254) scale(1,2.47)">FB54</text>
<text class="c" transform="translate(526.5,147.5) scale(1,2.47)">AD64</text>
<text class="c" transform="translate(519,232.5) scale(1,2.47)">AD66</text>
<text class="c" transform="translate(519,318.5) scale(1,2.47)">AD65</text>
<text class="c" transform="translate(570.5,192.5) scale(1,2.47)">MA07</text>
<text class="c" transform="translate(614.5,147.5) scale(1,2.47)">MA30</text>
<text class="c" transform="translate(614.5,232.5) scale(1,2.47)">MA32</text>
<text class="c" transform="translate(658,192.5) scale(1,2.47)">MA33</text>
<text class="c" transform="translate(658,277.5) scale(1,2.47)">MA34</text>
<text class="c" transform="translate(658,362.5) scale(1,2.47)">MA35</text>
<text class="c" transform="translate(662,460) scale(1,2.47)">LA08</text>
<text class="c" transform="translate(662,567.5) scale(1,2.47)">LD08</text>
<text class="c" transform="translate(662,675) scale(1,2.47)">LD06</text>
<text class="c" transform="translate(662,784) scale(1,2.47)">LD05</text>
<text class="c" transform="translate(658,881.5) scale(1,2.47)">MA03</text>
<text class="c" transform="translate(658,967.5) scale(1,2.47)">MA06</text>
<text class="c" transform="translate(658,1052.5) scale(1,2.47)">MA10</text>
<text class="c" transform="translate(614.5,1092.5) scale(1,2.47)">NA12</text>
<text class="c" transform="translate(570.5,1052.5) scale(1,2.47)">NA11</text>
<text class="c" transform="translate(614.5,1010) scale(1,2.47)">BS01</text>
<text class="c" transform="translate(607.5,382.5) scale(1,2.47)">BS53</text>
<text class="c" transform="translate(607.5,470) scale(1,2.47)">BS52</text>
<text class="c" transform="translate(607.5,557.5) scale(1,2.47)">BS51</text>
<text class="c" transform="translate(607.5,687.5) scale(1,2.47)">BS14</text>
<text class="c" transform="translate(607.5,772.5) scale(1,2.47)">BS12</text>
<text class="c" transform="translate(607.5,857.5) scale(1,2.47)">BS11</text>
<text class="c" transform="translate(516.5,512.5) scale(1,2.47)">NA04</text>
<text class="c" transform="translate(516.5,725) scale(1,2.47)">PA01</text>
<text class="c" transform="translate(467.5,897.5) scale(1,2.47)">BS02</text>
<text class="c" transform="translate(423.5,987.5) scale(1,2.47)">AR05</text>
<text class="c" transform="translate(467.5,987.5) scale(1,2.47)">AR10</text>
<text class="c" transform="translate(519,922.5) scale(1,2.47)">BB10</text>
<text class="c" transform="translate(519,1007.5) scale(1,2.47)">NB06</text>
<text class="c" transform="translate(526.5,1095) scale(1,2.47)">NB04</text>
<text class="c" transform="translate(1497.5,190) scale(1,2.47)">AD11</text>
<text class="c" transform="translate(1497.5,276.5) scale(1,2.47)">KA22</text>
<text class="c" transform="translate(1501,460) scale(1,2.47)">NK02</text>
<text class="c" transform="translate(1501,567.5) scale(1,2.47)">LR02</text>
<text class="c" transform="translate(1501,675) scale(1,2.47)">LB04</text>
<text class="c" transform="translate(1501,784) scale(1,2.47)">LB02</text>
<text class="c" transform="translate(1497.5,881.5) scale(1,2.47)">AD02</text>
<text class="c" transform="translate(1497.5,967.5) scale(1,2.47)">AD07</text>
<text class="c" transform="translate(1497.5,1052.5) scale(1,2.47)">AD10</text>
<text class="c" transform="translate(1452.5,142.5) scale(1,2.47)">AD12</text>
<text class="c" transform="translate(1452.5,228.5) scale(1,2.47)">AD46</text>
<text class="c" transform="translate(1409.5,187.5) scale(1,2.47)">MW16</text>
<text class="c" transform="translate(1365.5,142.5) scale(1,2.47)">AD47</text>
<text class="c" transform="translate(1355.5,228.5) scale(1,2.47)">AD70</text>
<text class="c" transform="translate(1355.5,316) scale(1,2.47)">MA20</text>
<text class="c" transform="translate(1303.5,252.5) scale(1,2.47)">MH05</text>
<text class="c" transform="translate(1259.5,252.5) scale(1,2.47)">AD62</text>
<text class="c" transform="translate(1443.5,382.5) scale(1,2.47)">NB10</text>
<text class="c" transform="translate(1443.5,470) scale(1,2.47)">NB06</text>
<text class="c" transform="translate(1443.5,557.5) scale(1,2.47)">NB07</text>
<text class="c" transform="translate(1443.5,685) scale(1,2.47)">NB03</text>
<text class="c" transform="translate(1443.5,772.5) scale(1,2.47)">NB02</text>
<text class="c" transform="translate(1443.5,857.5) scale(1,2.47)">NB14</text>
<text class="c" transform="translate(1354.5,510) scale(1,2.47)">AA81</text>
<text class="c" transform="translate(1354.5,725) scale(1,2.47)">AA10</text>
<text class="c" transform="translate(1355.5,922.5) scale(1,2.47)">RB26</text>
<text class="c" transform="translate(1303.5,987.5) scale(1,2.47)">AA45</text>
<text class="c" transform="translate(1259.5,987.5) scale(1,2.47)">AD06</text>
<text class="c" transform="translate(1452.5,1007.5) scale(1,2.47)">NB62</text>
<text class="c" transform="translate(1452.5,1092.5) scale(1,2.47)">NB61</text>
<text class="c" transform="translate(1409.5,1052.5) scale(1,2.47)">NB05</text>
<text class="c" transform="translate(1365.5,1092.5) scale(1,2.47)">AA64</text>
<text class="c" transform="translate(1147.5,254) scale(1,2.47)">AA83</text>
<text class="c" transform="translate(1104.5,254) scale(1,2.47)">FB54</text>
<text class="c" transform="translate(1044.5,147.5) scale(1,2.47)">AD64</text>
<text class="c" transform="translate(1052,232.5) scale(1,2.47)">AD66</text>
<text class="c" transform="translate(1052,318.5) scale(1,2.47)">AD65</text>
<text class="c" transform="translate(1000.5,192.5) scale(1,2.47)">MA07</text>
<text class="c" transform="translate(956.5,147.5) scale(1,2.47)">MA30</text>
<text class="c" transform="translate(956.5,232.5) scale(1,2.47)">MA32</text>
<text class="c" transform="translate(913,192.5) scale(1,2.47)">MA33</text>
<text class="c" transform="translate(913,277.5) scale(1,2.47)">MA34</text>
<text class="c" transform="translate(913,362.5) scale(1,2.47)">MA35</text>
<text class="c" transform="translate(909,460) scale(1,2.47)">LA08</text>
<text class="c" transform="translate(909,567.5) scale(1,2.47)">LD08</text>
<text class="c" transform="translate(909,675) scale(1,2.47)">LD06</text>
<text class="c" transform="translate(909,784) scale(1,2.47)">LD05</text>
<text class="c" transform="translate(913,881.5) scale(1,2.47)">MA03</text>
<text class="c" transform="translate(913,967.5) scale(1,2.47)">MA06</text>
<text class="c" transform="translate(913,1052.5) scale(1,2.47)">MA10</text>
<text class="c" transform="translate(956.5,1092.5) scale(1,2.47)">NA12</text>
<text class="c" transform="translate(1000.5,1052.5) scale(1,2.47)">NA11</text>
<text class="c" transform="translate(956.5,1010) scale(1,2.47)">BS01</text>
<text class="c" transform="translate(963.5,382.5) scale(1,2.47)">BS53</text>
<text class="c" transform="translate(963.5,470) scale(1,2.47)">BS52</text>
<text class="c" transform="translate(963.5,557.5) scale(1,2.47)">BS51</text>
<text class="c" transform="translate(963.5,687.5) scale(1,2.47)">BS14</text>
<text class="c" transform="translate(963.5,772.5) scale(1,2.47)">BS12</text>
<text class="c" transform="translate(963.5,857.5) scale(1,2.47)">BS11</text>
<text class="c" transform="translate(1054.5,512.5) scale(1,2.47)">NA04</text>
<text class="c" transform="translate(1054.5,725) scale(1,2.47)">PA01</text>
<text class="c" transform="translate(1103.5,897.5) scale(1,2.47)">BS02</text>
<text class="c" transform="translate(1147.5,987.5) scale(1,2.47)">AR05</text>
<text class="c" transform="translate(1103.5,987.5) scale(1,2.47)">AR10</text>
<text class="c" transform="translate(1052,922.5) scale(1,2.47)">BB10</text>
<text class="c" transform="translate(1052,1007.5) scale(1,2.47)">NB06</text>
<text class="c" transform="translate(1044.5,1095) scale(1,2.47)">NB04</text>
</g>
</g>
<text x="486" y="817" font-size="10" text-anchor="middle">SMJ−2</text>
<rect x="474" y="829" width="20" height="10" fill="none" stroke="#000" stroke-width="2"/>
<text x="484" y="834.5" font-size="6.5" class="c">B−10</text>

<!-- Arrows -->
<g stroke="#000" stroke-width="3" fill="none">
<line x1="152.6" y1="992.6" x2="130" y2="972"/>
<line x1="818.6" y1="992.6" x2="841" y2="972"/>
</g>
<polygon points="125,966 138,973 130,979" fill="#000"/>
<polygon points="846,966 833,973 841,979" fill="#000"/>
<rect x="151" y="993" width="159" height="20" fill="#fff" stroke="#000" stroke-width="3"/>
<text x="230.5" y="1007" font-size="10" class="b" text-anchor="middle" textLength="150" lengthAdjust="spacingAndGlyphs">Э/проводка моторного отсека</text>
<rect x="707" y="993" width="111" height="20" fill="#fff" stroke="#000" stroke-width="3"/>
<text x="762.5" y="1007" font-size="10" class="b" text-anchor="middle" textLength="102" lengthAdjust="spacingAndGlyphs">Главная э/проводка</text>

<!-- Fuse holder (zoom2 coords) -->
<text transform="translate(373,1265) rotate(-90)" font-size="6" class="c">MH01 G/B</text>
<g transform="translate(73.6,1251.3) scale(0.3444,0.1636)" stroke="#000" fill="none">
<path d="M80,150 C50,450 140,750 110,950 C95,1050 90,1120 95,1180" stroke-width="2"/>
<path d="M80,190 L810,190 L810,1150 L90,1150" stroke-width="2"/>
<path d="M910,170 C880,500 930,800 915,1180" stroke-width="2"/>
<path d="M895,235 L1055,235 L1055,195 L1530,195 L1530,1150 L1380,1150 L1380,1190 L1275,1190 L1275,1150 L1055,1150 L1055,1110 L940,1110" stroke-width="2"/>
<path d="M45,1290 Q50,1310 75,1310 L1515,1310 Q1535,1310 1540,1290" stroke-width="2"/>
<g stroke-width="2" fill="#fff">
<rect x="97" y="360" width="468" height="260" stroke-width="3"/>
<rect x="614" y="365" width="156" height="255" stroke-width="3"/>
<rect x="514" y="750" width="51" height="255" stroke-width="3"/>
<rect x="618" y="750" width="152" height="255" stroke-width="3"/>
<rect x="1098" y="365" width="204" height="255" stroke-width="3"/>
<rect x="955" y="515" width="63" height="345" stroke-width="3"/>
<rect x="1098" y="750" width="412" height="255" stroke-width="3"/>
</g>
<g stroke-width="1.5">
<line x1="97" y1="448" x2="565" y2="448"/><line x1="97" y1="535" x2="565" y2="535"/>
<line x1="150" y1="360" x2="150" y2="620"/><line x1="202" y1="360" x2="202" y2="620"/>
<line x1="254" y1="360" x2="254" y2="620"/><line x1="306" y1="360" x2="306" y2="620"/>
<line x1="358" y1="360" x2="358" y2="620"/><line x1="410" y1="360" x2="410" y2="620"/>
<line x1="462" y1="360" x2="462" y2="620"/><line x1="514" y1="360" x2="514" y2="620"/>
<line x1="614" y1="448" x2="770" y2="448"/><line x1="614" y1="535" x2="770" y2="535"/>
<line x1="668" y1="365" x2="668" y2="620"/><line x1="720" y1="365" x2="720" y2="620"/>
<line x1="514" y1="835" x2="565" y2="835"/><line x1="514" y1="920" x2="565" y2="920"/>
<line x1="618" y1="835" x2="770" y2="835"/><line x1="618" y1="920" x2="770" y2="920"/>
<line x1="668" y1="750" x2="668" y2="1005"/><line x1="720" y1="750" x2="720" y2="1005"/>
<line x1="1098" y1="448" x2="1302" y2="448"/><line x1="1098" y1="535" x2="1302" y2="535"/>
<line x1="1150" y1="365" x2="1150" y2="620"/><line x1="1202" y1="365" x2="1202" y2="620"/>
<line x1="1253" y1="365" x2="1253" y2="620"/>
<line x1="955" y1="645" x2="1018" y2="645"/><line x1="955" y1="730" x2="1018" y2="730"/>
<line x1="1098" y1="835" x2="1510" y2="835"/><line x1="1098" y1="920" x2="1510" y2="920"/>
<line x1="1150" y1="750" x2="1150" y2="1005"/><line x1="1202" y1="750" x2="1202" y2="1005"/>
<line x1="1253" y1="750" x2="1253" y2="1005"/><line x1="1305" y1="750" x2="1305" y2="1005"/>
<line x1="1356" y1="750" x2="1356" y2="1005"/><line x1="1408" y1="750" x2="1408" y2="1005"/>
<line x1="1458" y1="750" x2="1458" y2="1005"/>
</g>
<g stroke-width="2">
<line x1="202" y1="405" x2="614" y2="405"/>
<polyline points="770,405 790,405 790,685 597,685 597,792 565,792"/>
<line x1="110" y1="792" x2="514" y2="792"/>
<line x1="120" y1="962" x2="514" y2="962"/>
<line x1="565" y1="962" x2="770" y2="962"/>
<line x1="614" y1="405" x2="770" y2="405"/>
<line x1="900" y1="578" x2="955" y2="578"/>
<polyline points="1018,578 1055,578 1055,405 1302,405"/>
<line x1="940" y1="792" x2="955" y2="792"/>
<polyline points="1018,792 1055,792 1055,962 1430,962"/>
</g>
<g fill="#fff" stroke-width="2">
<ellipse cx="228" cy="405" rx="13" ry="27"/><ellipse cx="280" cy="405" rx="13" ry="27"/>
<ellipse cx="332" cy="405" rx="13" ry="27"/><ellipse cx="384" cy="405" rx="13" ry="27"/>
<ellipse cx="436" cy="405" rx="13" ry="27"/><ellipse cx="488" cy="405" rx="13" ry="27"/>
<ellipse cx="540" cy="405" rx="13" ry="27"/>
<ellipse cx="640" cy="405" rx="13" ry="27"/><ellipse cx="693" cy="405" rx="13" ry="27"/>
<ellipse cx="745" cy="405" rx="13" ry="27"/>
<ellipse cx="540" cy="792" rx="13" ry="27"/><ellipse cx="540" cy="962" rx="13" ry="27"/>
<ellipse cx="640" cy="962" rx="13" ry="27"/><ellipse cx="693" cy="962" rx="13" ry="27"/>
<ellipse cx="745" cy="962" rx="13" ry="27"/>
<ellipse cx="1124" cy="405" rx="13" ry="27"/><ellipse cx="1176" cy="405" rx="13" ry="27"/>
<ellipse cx="1227" cy="405" rx="13" ry="27"/><ellipse cx="1277" cy="405" rx="13" ry="27"/>
<ellipse cx="986" cy="578" rx="26" ry="55"/><ellipse cx="986" cy="792" rx="26" ry="55"/>
<ellipse cx="1124" cy="962" rx="13" ry="27"/><ellipse cx="1176" cy="962" rx="13" ry="27"/>
<ellipse cx="1227" cy="962" rx="13" ry="27"/><ellipse cx="1279" cy="962" rx="13" ry="27"/>
<ellipse cx="1330" cy="962" rx="13" ry="27"/><ellipse cx="1382" cy="962" rx="13" ry="27"/>
<ellipse cx="1433" cy="962" rx="13" ry="27"/>
</g>
<rect x="668" y="1355" width="62" height="55" stroke-width="2"/>
</g>
<g transform="translate(73.6,1251.3) scale(0.3444,0.1636)">
<g font-size="28">
<text class="n" transform="translate(360,305) scale(1,2.105)">Предохранители</text>
<text class="n" transform="translate(1270,1105) scale(1,2.105)">Предохранители</text>
<text class="n" transform="translate(420,1250) scale(1,2.105)">(Бензиновые двигатели)</text>
<text class="n" transform="translate(1190,1250) scale(1,2.105)">(Дизельные двигатели)</text>
<text class="n" transform="translate(920,1382) scale(1,2.105)">Держатель плавких вставок</text>
</g>
<g font-size="30" class="b">
<text class="c" transform="translate(690,270) scale(1,2.105)">F/L</text>
<text class="c" transform="translate(635,320) scale(1,2.105)">1</text>
<text class="c" transform="translate(692,320) scale(1,2.105)">2</text>
<text class="c" transform="translate(742,320) scale(1,2.105)">3</text>
<text class="c" transform="translate(280,662) scale(1,2.105)">#34</text>
<text class="c" transform="translate(384,662) scale(1,2.105)">#36</text>
<text class="c" transform="translate(537,662) scale(1,2.105)">#39</text>
<text class="c" transform="translate(228,716) scale(1,2.105)">#33</text>
<text class="c" transform="translate(332,716) scale(1,2.105)">#35</text>
<text class="c" transform="translate(436,716) scale(1,2.105)">#37</text>
<text class="c" transform="translate(540,1048) scale(1,2.105)">4</text>
<text class="c" transform="translate(637,1048) scale(1,2.105)">5</text>
<text class="c" transform="translate(692,1048) scale(1,2.105)">6</text>
<text class="c" transform="translate(743,1048) scale(1,2.105)">7</text>
<text class="c" transform="translate(665,1095) scale(1,2.105)">F/L</text>
<text class="c" transform="translate(1200,270) scale(1,2.105)">F/L</text>
<text class="c" transform="translate(1118,320) scale(1,2.105)">6</text>
<text class="c" transform="translate(1175,320) scale(1,2.105)">7</text>
<text class="c" transform="translate(1227,320) scale(1,2.105)">8</text>
<text class="c" transform="translate(1277,320) scale(1,2.105)">9</text>
<text class="c" transform="translate(986,905) scale(1,2.105)">5</text>
<text class="c" transform="translate(1278,1050) scale(1,2.105)">#42</text>
</g>
<g font-size="15">
<text class="c" transform="translate(228,491) scale(1,2.105)">15A</text>
<text class="c" transform="translate(280,491) scale(1,2.105)">15A</text>
<text class="c" transform="translate(332,491) scale(1,2.105)">10A</text>
<text class="c" transform="translate(384,491) scale(1,2.105)">10A</text>
<text class="c" transform="translate(436,491) scale(1,2.105)">10A</text>
<text class="c" transform="translate(540,491) scale(1,2.105)">20A</text>
<text class="c" transform="translate(228,578) scale(1,2.105)">LA01</text>
<text class="c" transform="translate(280,578) scale(1,2.105)">LA02</text>
<text class="c" transform="translate(332,578) scale(1,2.105)">LT01</text>
<text class="c" transform="translate(384,578) scale(1,2.105)">MH01</text>
<text class="c" transform="translate(436,578) scale(1,2.105)">KA20</text>
<text class="c" transform="translate(540,578) scale(1,2.105)">NA14</text>
<text class="c" transform="translate(641,474) scale(1,2.105)">40A</text><text class="c" transform="translate(641,510) scale(1,2.105)">(R)</text>
<text class="c" transform="translate(694,474) scale(1,2.105)">40A</text><text class="c" transform="translate(694,510) scale(1,2.105)">(R)</text>
<text class="c" transform="translate(745,474) scale(1,2.105)">40A</text><text class="c" transform="translate(745,510) scale(1,2.105)">(R)</text>
<text class="c" transform="translate(641,578) scale(1,2.105)">BS03</text>
<text class="c" transform="translate(694,578) scale(1,2.105)">BS02</text>
<text class="c" transform="translate(745,578) scale(1,2.105)">DA20</text>
<text class="c" transform="translate(540,860) scale(1,2.105)">60A</text><text class="c" transform="translate(540,896) scale(1,2.105)">(B)</text>
<text class="c" transform="translate(643,792) scale(1,2.105)">FA01</text>
<text class="c" transform="translate(694,792) scale(1,2.105)">AR08</text>
<text class="c" transform="translate(745,792) scale(1,2.105)">AR01</text>
<text class="c" transform="translate(643,860) scale(1,2.105)">30A</text><text class="c" transform="translate(643,896) scale(1,2.105)">(B)</text>
<text class="c" transform="translate(694,860) scale(1,2.105)">40A</text><text class="c" transform="translate(694,896) scale(1,2.105)">(R)</text>
<text class="c" transform="translate(745,860) scale(1,2.105)">40A</text><text class="c" transform="translate(745,896) scale(1,2.105)">(R)</text>
<text class="c" transform="translate(1124,474) scale(1,2.105)">40A</text><text class="c" transform="translate(1124,510) scale(1,2.105)">(R)</text>
<text class="c" transform="translate(1176,474) scale(1,2.105)">40A</text><text class="c" transform="translate(1176,510) scale(1,2.105)">(R)</text>
<text class="c" transform="translate(1227,474) scale(1,2.105)">40A</text><text class="c" transform="translate(1227,510) scale(1,2.105)">(R)</text>
<text class="c" transform="translate(1277,474) scale(1,2.105)">80A</text><text class="c" transform="translate(1277,510) scale(1,2.105)">(B)</text>
<text class="c" transform="translate(1124,578) scale(1,2.105)">BS05</text>
<text class="c" transform="translate(1176,578) scale(1,2.105)">BS02</text>
<text class="c" transform="translate(1227,578) scale(1,2.105)">DA20</text>
<text class="c" transform="translate(1277,578) scale(1,2.105)">AD04</text>
<text class="c" transform="translate(986,578) scale(1,2.105)">DA01</text>
<text class="c" transform="translate(986,792) scale(1,2.105)">DA02</text>
<text class="c" transform="translate(986,670) scale(1,2.105)">80A</text><text class="c" transform="translate(986,706) scale(1,2.105)">(B)</text>
<text class="c" transform="translate(1279,792) scale(1,2.105)">MH01</text>
<text class="c" transform="translate(1279,878) scale(1,2.105)">10A</text>
<text class="c" transform="translate(699,1382) scale(1,2.105)">A−43</text>
</g>
</g>
</svg>
</body></html>
